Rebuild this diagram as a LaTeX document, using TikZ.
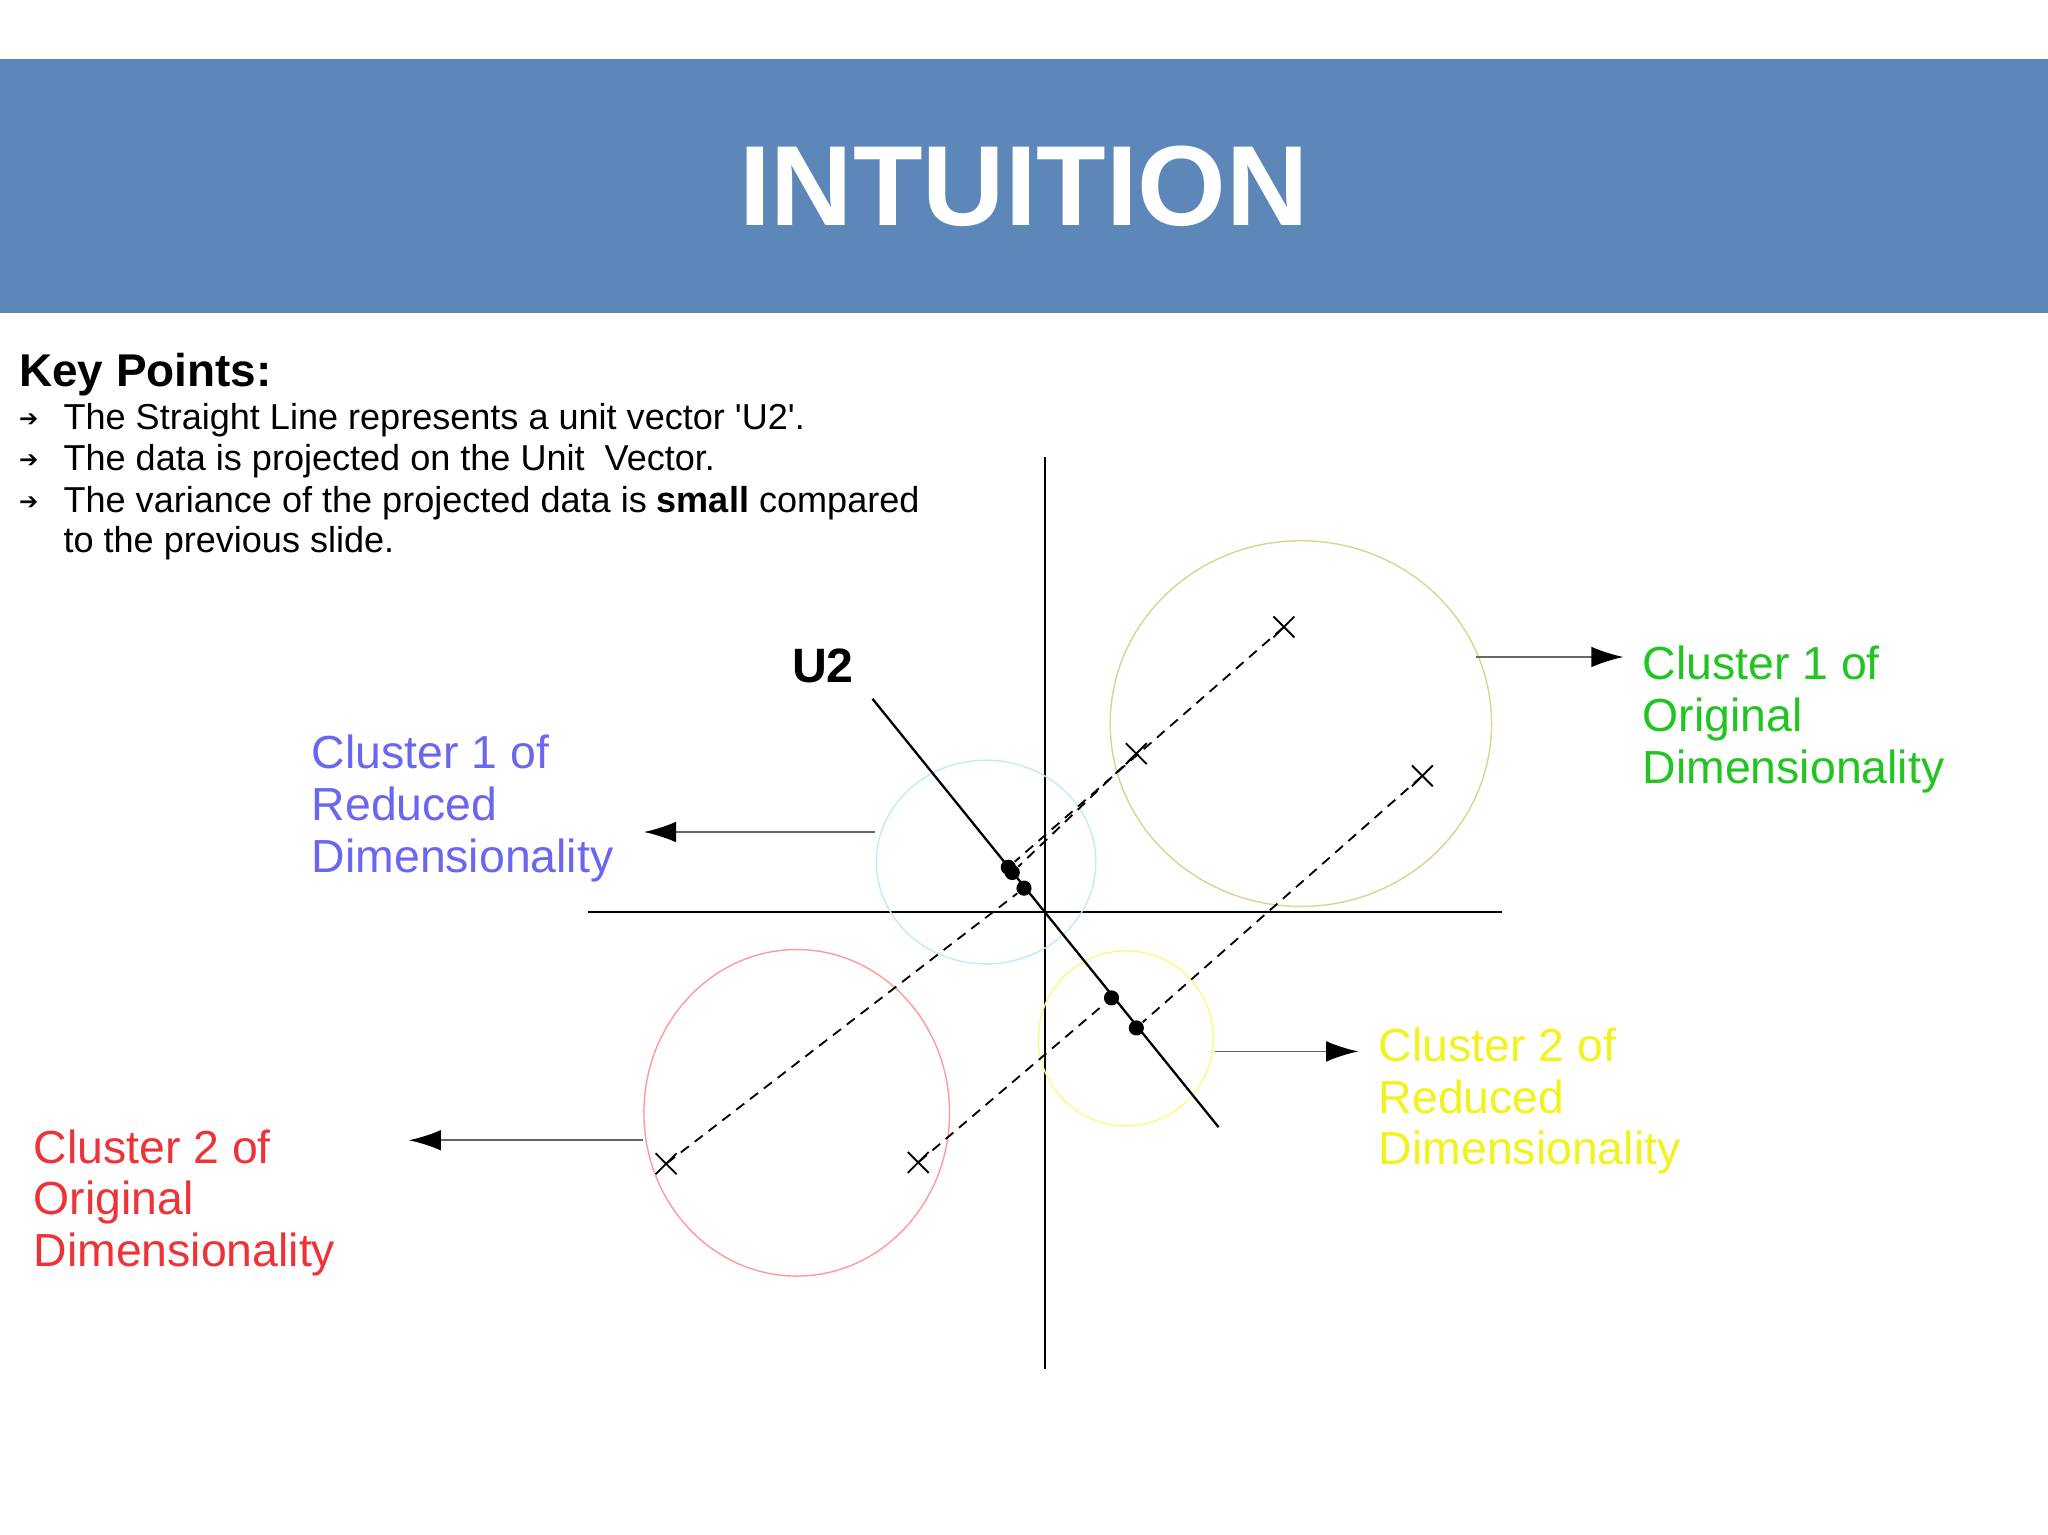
\documentclass[tikz,border=0pt]{standalone}
\usepackage{fontspec}
\setmainfont{Liberation Sans}[Ligatures=NoCommon]
\newfontfamily\djv{DejaVu Sans}
\usetikzlibrary{arrows.meta}
\definecolor{band}{HTML}{5D87B8}
\definecolor{cgreen}{HTML}{22C422}
\definecolor{cblue}{HTML}{6A66F0}
\definecolor{cyel}{HTML}{F2F21E}
\definecolor{cred}{HTML}{EE3338}
\begin{document}
\begin{tikzpicture}[x=0.01cm,y=-0.01cm,
  lbl/.style={anchor=west,align=left,font=\fontsize{10.1}{11.3}\selectfont,inner sep=0pt},
  bul/.style={anchor=west,inner sep=0pt,font=\fontsize{7.85}{9}\selectfont},
  cross/.style={draw=none,inner sep=0pt,minimum size=0pt},
  proj/.style={dashed,dash pattern=on 2.2pt off 1.6pt,line width=0.4pt},
  dot/.style={circle,fill=black,inner sep=0pt,minimum size=3.3pt},
  pointer/.style={gray!80!black,line width=0.4pt,-{Latex[length=7pt,width=4.5pt,color=black]}}]
\useasboundingbox (0,0) rectangle (1568,1175);
\fill[white] (0,0) rectangle (1568,1175);
\fill[band] (0,45) rectangle (1568,240);
\node[text=white,font=\fontsize{24.8}{26}\selectfont\bfseries] (title) at (784,143) {INTUITION};
\node[anchor=west,inner sep=0pt,font=\fontsize{10}{11}\selectfont\bfseries] (kp) at (14,287) {Key Points:};
\foreach \y/\t [count=\i] in {322/{The Straight Line represents a unit vector \textquotesingle U2\textquotesingle.},353/{The data is projected on the Unit\ \ Vector.},385/{The variance of the projected data is \textbf{small} compared}}{
  \node[bul] (b\i) at (14,\y) {\djv\fontsize{5}{6}\selectfont ➔};
  \node[bul] (t\i) at (48,\y) {\t};}
\node[bul] (t4) at (48,416) {to the previous slide.};
% axes
\coordinate (vt) at (800,350); \coordinate (vb) at (800,1048);
\coordinate (hl) at (450,698); \coordinate (hr) at (1150,698);
\draw[line width=0.5pt] (vt)--(vb); \draw[line width=0.5pt] (hl)--(hr);
% circles
\draw[olive!35!white,line width=0.3pt] (996,554) ellipse (146 and 140);
\draw[cyan!25!white,line width=0.3pt] (755,660) ellipse (84 and 78);
\draw[red!40!white,line width=0.3pt] (610,852) ellipse (117 and 125);
\draw[yellow!50!white,line width=0.3pt] (862,795) ellipse (67 and 67);
% U2 line
\coordinate (ua) at (668,535); \coordinate (ub) at (933,863);
\draw[line width=0.5pt] (ua)--(ub);
\node[font=\fontsize{10.5}{12}\selectfont\bfseries] (u2) at (630,510) {U2};
% crosses and projections
\foreach \n/\x/\y in {x1/983/480,x2/870/577,x3/1089/594,x4/510/891,x5/703/890}{
  \node[cross] (\n) at (\x,\y) {};
  \draw[line width=0.4pt] (\x-8,\y-8)--(\x+8,\y+8) (\x-8,\y+8)--(\x+8,\y-8);}
\foreach \n/\x/\y in {d1/772/664,d2/775/668,d3/784/680,d4/851/764,d5/870/787}{
  \node[dot] (\n) at (\x,\y) {};}
\draw[proj] (x1)--(d1); \draw[proj] (x2)--(d2); \draw[proj] (x3)--(d5);
\draw[proj] (x4)--(d3); \draw[proj] (x5)--(d4);
% labels
\node[lbl,text=cgreen] (g) at (1257,551) {Cluster 1 of\\Original\\Dimensionality};
\node[lbl,text=cblue] (bl) at (238,619) {Cluster 1 of\\Reduced\\Dimensionality};
\node[lbl,text=cyel] (yl) at (1055,843) {Cluster 2 of\\Reduced\\Dimensionality};
\node[lbl,text=cred] (rl) at (25,921) {Cluster 2 of\\Original\\Dimensionality};
\coordinate (ga) at (1130,503); \coordinate (gb) at (1243,503);
\coordinate (ba) at (670,637); \coordinate (bb) at (493,637);
\coordinate (ya) at (930,805); \coordinate (yb) at (1040,805);
\coordinate (ra) at (492,873); \coordinate (rb) at (313,873);
\draw[pointer] (ga)--(gb); \draw[pointer] (ba)--(bb);
\draw[pointer] (ya)--(yb); \draw[pointer] (ra)--(rb);
\end{tikzpicture}
\end{document}
